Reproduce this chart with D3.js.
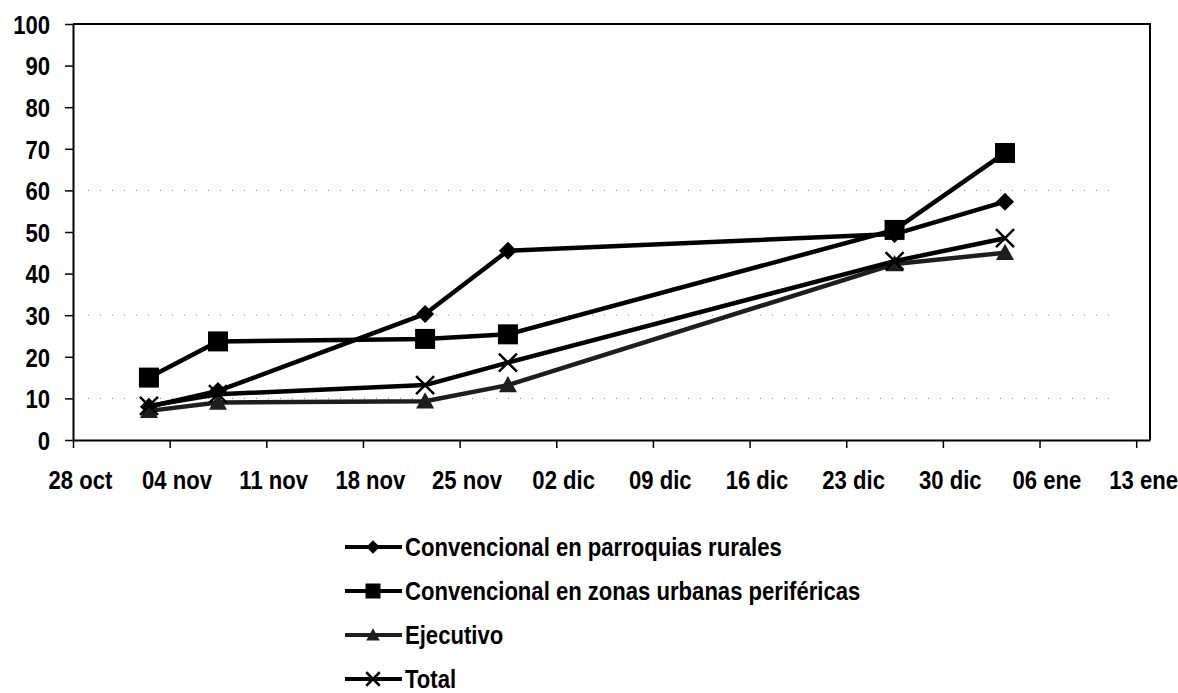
<!DOCTYPE html>
<html>
<head>
<meta charset="utf-8">
<script src="https://cdn.jsdelivr.net/npm/d3@7"></script>
<style>
  body { margin: 0; background: #fff; }
  svg text { font-family: "Liberation Sans", Arial, sans-serif; font-weight: bold; fill: #000; }
</style>
</head>
<body>
<div id="chart"></div>
<script>
(function () {
  // fechas de medición
  const dates = ["2006-11-02", "2006-11-07", "2006-11-22", "2006-11-28", "2006-12-26", "2007-01-03"];

  const seriesNames = [
    "Convencional en parroquias rurales",
    "Convencional en zonas urbanas periféricas",
    "Ejecutivo",
    "Total"
  ];
  const rurales = [8, 11.8, 30.3, 45.5, 49.5, 57.3];
  const urbanas = [15, 23.7, 24.3, 25.4, 50.5, 69];
  const ejecutivo = [7, 9, 9.3, 13.2, 42.3, 45];
  const total = [8.2, 11, 13.2, 18.6, 43, 48.5];

  const tickLabels = ["28 oct", "04 nov", "11 nov", "18 nov", "25 nov", "02 dic",
    "09 dic", "16 dic", "23 dic", "30 dic", "06 ene", "13 ene"];
  const yTicks = [0, 10, 20, 30, 40, 50, 60, 70, 80, 90, 100];

  const W = 1178, H = 693;
  const left = 73, right = 1150, top = 24, bottom = 440;
  const fontSize = 26, squeeze = 0.85; // letra estrecha

  const svg = d3.select("#chart").append("svg")
    .attr("width", W)
    .attr("height", H);

  const start = new Date(Date.UTC(2006, 9, 28));
  const end = new Date(Date.UTC(2007, 0, 14));
  const x = d3.scaleUtc().domain([start, end]).range([left, right]);
  const y = d3.scaleLinear().domain([0, 100]).range([bottom, top]);

  // Excel centra cada fecha en su día
  const halfDay = (x(d3.utcDay.offset(start, 1)) - x(start)) / 2;
  const tickDates = tickLabels.map((d, i) => d3.utcDay.offset(start, 7 * i));

  // restos de líneas de cuadrícula
  svg.append("g")
    .selectAll("line")
    .data([10, 30, 60])
    .join("line")
    .attr("x1", left + 15)
    .attr("x2", right - 30)
    .attr("y1", d => y(d))
    .attr("y2", d => y(d))
    .attr("stroke", "#888")
    .attr("stroke-width", 1)
    .attr("stroke-dasharray", "1,11");

  // marco superior y derecho
  svg.append("path")
    .attr("d", `M${left},${top}H${right}V${bottom}`)
    .attr("fill", "none")
    .attr("stroke", "#000")
    .attr("stroke-width", 2);

  const yAxis = svg.append("g")
    .attr("transform", `translate(${left},0)`)
    .call(d3.axisLeft(y).tickValues(yTicks).tickSize(8).tickSizeOuter(0));
  yAxis.select(".domain").attr("stroke-width", 2);
  yAxis.selectAll(".tick line").attr("stroke-width", 1.5);
  yAxis.selectAll(".tick text")
    .style("font-size", fontSize + "px")
    .attr("x", -23 / squeeze)
    .attr("dy", "0.36em")
    .attr("transform", `scale(${squeeze},1)`);

  const xAxis = svg.append("g")
    .attr("transform", `translate(0,${bottom})`)
    .call(d3.axisBottom(x).tickValues(tickDates).tickSize(8).tickSizeOuter(0)
      .tickFormat((d, i) => tickLabels[i]));
  xAxis.select(".domain").attr("stroke-width", 2);
  xAxis.selectAll(".tick line").attr("stroke-width", 1.5);
  xAxis.selectAll(".tick text")
    .style("font-size", fontSize + "px")
    .attr("x", halfDay / squeeze)
    .attr("y", 31)
    .attr("dy", "0.71em")
    .attr("transform", `scale(${squeeze},1)`);

  // formas de marcadores
  const shapes = {
    diamond: s => `M0,${-s}L${s},0L0,${s}L${-s},0Z`,
    square: s => `M${-s},${-s}H${s}V${s}H${-s}Z`,
    triangle: s => `M0,${-s}L${s},${s * 0.8}H${-s}Z`,
    cross: s => `M${-s},${-s}L${s},${s}M${s},${-s}L${-s},${s}`
  };

  const series = [
    { name: seriesNames[0], values: rurales, shape: "diamond", size: 9, color: "#000" },
    { name: seriesNames[1], values: urbanas, shape: "square", size: 10, color: "#000" },
    { name: seriesNames[2], values: ejecutivo, shape: "triangle", size: 9, color: "#1e1e1e" },
    { name: seriesNames[3], values: total, shape: "cross", size: 9, color: "#000" }
  ];

  const parse = d3.utcParse("%Y-%m-%d");
  const line = d3.line()
    .x(d => x(d.date) + halfDay)
    .y(d => y(d.value));

  function drawMarker(g, s, size) {
    if (s.shape === "cross") {
      g.append("path").attr("d", shapes.cross(size))
        .attr("fill", "none").attr("stroke", s.color).attr("stroke-width", 2.5);
    } else {
      g.append("path").attr("d", shapes[s.shape](size)).attr("fill", s.color);
    }
  }

  series.forEach(s => {
    const pts = dates.map((d, i) => ({ date: parse(d), value: s.values[i] }));
    svg.append("path")
      .datum(pts)
      .attr("d", line)
      .attr("fill", "none")
      .attr("stroke", s.color)
      .attr("stroke-width", 4.5)
      .attr("stroke-linejoin", "round");
    pts.forEach(p => {
      const g = svg.append("g")
        .attr("transform", `translate(${x(p.date) + halfDay},${y(p.value)})`);
      drawMarker(g, s, s.size);
    });
  });

  // leyenda
  const legend = svg.append("g");
  series.forEach((s, i) => {
    const ly = 547 + i * 44;
    const g = legend.append("g").attr("transform", `translate(0,${ly})`);
    g.append("line")
      .attr("x1", 345).attr("x2", 402)
      .attr("stroke", s.color).attr("stroke-width", 4);
    const m = g.append("g").attr("transform", "translate(373,0)");
    drawMarker(m, s, s.size * 0.75);
    g.append("text")
      .attr("x", 405 / squeeze)
      .attr("dy", "0.36em")
      .attr("transform", `scale(${squeeze},1)`)
      .style("font-size", fontSize + "px")
      .text(s.name);
  });
})();
</script>
</body>
</html>
